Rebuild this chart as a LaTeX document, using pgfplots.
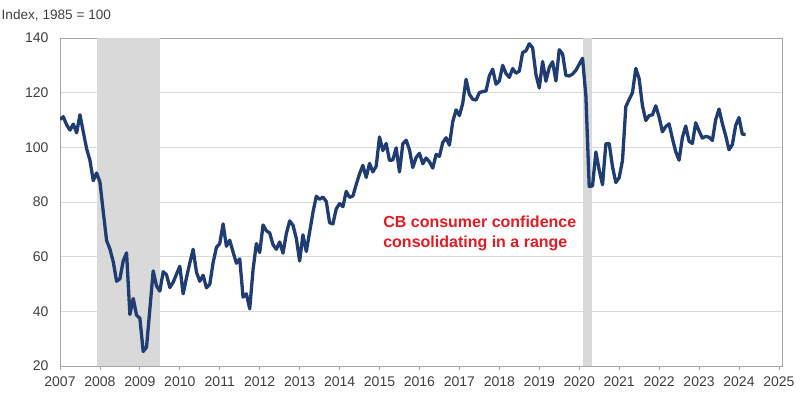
\documentclass[border=0pt]{standalone}
\usepackage{pgfplots}
\pgfplotsset{compat=1.18}
\usepackage{pgfplotstable}
\usepackage{fontspec}
\setmainfont{Liberation Sans}
\definecolor{navy}{RGB}{31,61,115}
\definecolor{shade}{RGB}{217,217,217}
\definecolor{gridc}{RGB}{217,217,217}
\definecolor{framec}{RGB}{166,166,166}
\definecolor{tickc}{RGB}{64,64,64}
\definecolor{annot}{RGB}{227,27,35}
\pgfplotstableread{
yr m v
2007 1 110.2
2007 2 111.2
2007 3 108.2
2007 4 106.3
2007 5 108.5
2007 6 105.3
2007 7 111.9
2007 8 105.6
2007 9 99.5
2007 10 95.2
2007 11 87.8
2007 12 90.6
2008 1 87.3
2008 2 76.4
2008 3 65.9
2008 4 62.8
2008 5 58.1
2008 6 51.0
2008 7 51.9
2008 8 58.5
2008 9 61.4
2008 10 38.8
2008 11 44.7
2008 12 38.6
2009 1 37.4
2009 2 25.3
2009 3 26.9
2009 4 40.8
2009 5 54.8
2009 6 49.3
2009 7 47.4
2009 8 54.5
2009 9 53.4
2009 10 48.7
2009 11 50.6
2009 12 53.6
2010 1 56.5
2010 2 46.4
2010 3 52.3
2010 4 57.7
2010 5 62.7
2010 6 54.3
2010 7 51.0
2010 8 53.2
2010 9 48.6
2010 10 49.9
2010 11 57.8
2010 12 63.4
2011 1 64.8
2011 2 72.0
2011 3 63.8
2011 4 66.0
2011 5 61.7
2011 6 57.6
2011 7 59.2
2011 8 45.2
2011 9 46.4
2011 10 40.9
2011 11 55.2
2011 12 64.8
2012 1 61.5
2012 2 71.6
2012 3 69.5
2012 4 68.7
2012 5 64.4
2012 6 62.7
2012 7 65.4
2012 8 61.3
2012 9 68.4
2012 10 73.1
2012 11 71.5
2012 12 66.7
2013 1 58.4
2013 2 68.0
2013 3 61.9
2013 4 69.0
2013 5 76.2
2013 6 82.1
2013 7 81.0
2013 8 81.8
2013 9 80.2
2013 10 72.4
2013 11 72.0
2013 12 77.5
2014 1 79.4
2014 2 78.3
2014 3 83.9
2014 4 81.7
2014 5 82.2
2014 6 86.4
2014 7 90.3
2014 8 93.4
2014 9 89.0
2014 10 94.1
2014 11 91.0
2014 12 93.1
2015 1 103.8
2015 2 98.8
2015 3 101.4
2015 4 95.2
2015 5 95.4
2015 6 99.8
2015 7 91.0
2015 8 101.3
2015 9 102.6
2015 10 99.1
2015 11 92.6
2015 12 96.3
2016 1 97.8
2016 2 94.0
2016 3 96.1
2016 4 94.7
2016 5 92.4
2016 6 97.4
2016 7 96.7
2016 8 101.8
2016 9 103.5
2016 10 100.8
2016 11 109.4
2016 12 113.7
2017 1 111.6
2017 2 116.1
2017 3 124.9
2017 4 119.4
2017 5 117.6
2017 6 117.3
2017 7 120.0
2017 8 120.4
2017 9 120.6
2017 10 126.2
2017 11 128.6
2017 12 123.1
2018 1 124.3
2018 2 130.0
2018 3 127.0
2018 4 125.6
2018 5 128.8
2018 6 127.1
2018 7 127.9
2018 8 134.7
2018 9 135.3
2018 10 137.9
2018 11 136.4
2018 12 126.6
2019 1 121.7
2019 2 131.4
2019 3 124.2
2019 4 129.2
2019 5 131.3
2019 6 124.3
2019 7 135.7
2019 8 134.2
2019 9 126.3
2019 10 126.1
2019 11 126.8
2019 12 128.2
2020 1 130.4
2020 2 132.6
2020 3 118.8
2020 4 85.7
2020 5 85.9
2020 6 98.3
2020 7 91.7
2020 8 86.3
2020 9 101.3
2020 10 101.4
2020 11 92.9
2020 12 87.1
2021 1 88.9
2021 2 95.2
2021 3 114.9
2021 4 117.5
2021 5 120.0
2021 6 128.9
2021 7 125.1
2021 8 115.2
2021 9 109.8
2021 10 111.6
2021 11 111.9
2021 12 115.2
2022 1 111.1
2022 2 105.7
2022 3 107.6
2022 4 108.6
2022 5 103.2
2022 6 98.4
2022 7 95.3
2022 8 103.6
2022 9 107.8
2022 10 102.2
2022 11 101.4
2022 12 109.0
2023 1 106.0
2023 2 103.4
2023 3 104.0
2023 4 103.7
2023 5 102.5
2023 6 110.1
2023 7 114.0
2023 8 108.7
2023 9 104.3
2023 10 99.1
2023 11 101.0
2023 12 108.0
2024 1 110.9
2024 2 104.8
2024 3 104.7
}\cbdata
\begin{document}
\begin{tikzpicture}
\useasboundingbox (0,0) rectangle (800pt,399pt);
\node[anchor=west, inner sep=0pt, font=\fontsize{13.6}{16}\selectfont, text=tickc] at (1.5pt,383.5pt) {Index, 1985 = 100};
\begin{axis}[
  at={(60pt,33pt)}, anchor=south west,
  scale only axis, width=722pt, height=328pt,
  xmin=2007, xmax=2025.077, ymin=20, ymax=140,
  xtick={2007,2008,...,2025},
  ytick={20,40,...,140},
  /pgf/number format/1000 sep={},
  /pgf/number format/assume math mode=true,
  ticklabel style={font=\fontsize{14}{16}\selectfont, text=tickc},
  xtick pos=bottom, ytick pos=left,
  ytick style={draw=none},
  xtick style={draw=framec, line width=0.8pt},
  tick align=outside,
  major tick length=4pt,
  xticklabel style={yshift=-3pt},
  yticklabel style={xshift=-4pt},
  ymajorgrids, grid style={gridc, line width=0.8pt},
  axis line style={framec, line width=0.8pt},
  clip=true,
]
\addplot[fill=shade, draw=none] coordinates {(2007.917,20) (2009.5,20) (2009.5,140) (2007.917,140)} -- cycle;
\addplot[fill=shade, draw=none] coordinates {(2020.09,20) (2020.33,20) (2020.33,140) (2020.09,140)} -- cycle;
\addplot[navy, line width=3.3pt, line join=round] table[x expr={\thisrow{yr}+(\thisrow{m}-1)/12}, y=v] {\cbdata};
\node[anchor=north west, inner sep=0pt, align=left, text=annot, font=\bfseries\fontsize{16}{20}\selectfont] at (axis cs:2015.09,75) {CB consumer confidence\\consolidating in a range};
\end{axis}
\end{tikzpicture}
\end{document}
